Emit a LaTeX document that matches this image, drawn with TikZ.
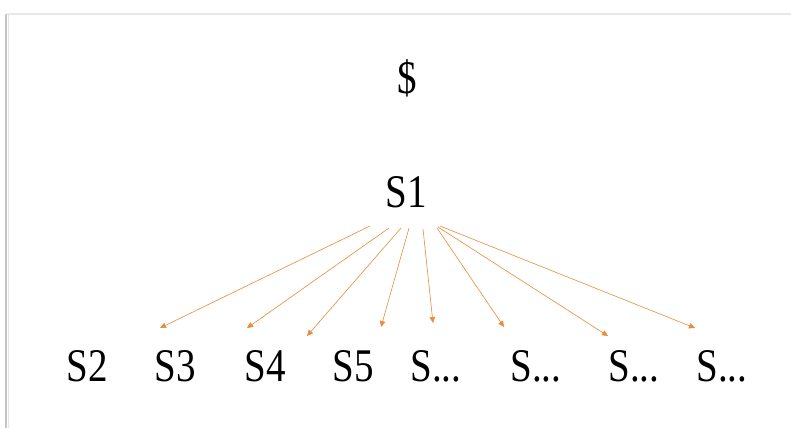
\documentclass[tikz,border=0pt]{standalone}
\usepackage{fontspec}
\setmainfont{Liberation Serif}
\usetikzlibrary{arrows.meta}
\definecolor{arrorange}{RGB}{232,140,60}
\tikzset{
  lbl/.style={anchor=base, inner sep=0pt, font=\fontsize{39}{47}\selectfont, text=black},
  conn/.style={draw=arrorange, line width=0.6pt, -{Triangle[length=6pt,width=5.5pt]}},
  frame/.style={line width=1.2pt}
}
\newcommand{\tall}[1]{\scalebox{1}[1.2]{#1}}
\begin{document}
\begin{tikzpicture}[x=1pt,y=1pt]
\useasboundingbox (0,0) rectangle (791,428);
\fill[white] (0,0) rectangle (791,428);
% slide frame shadow
\draw[frame, gray!18] (7,414) -- (791,414);
\draw[frame, gray!45] (6,414) -- (6,0);
\draw[line width=0.6pt, gray!20] (8,413) -- (8,0);
% labels
\node[lbl] (dollar) at (407,334) {\tall{\$}};
\node[lbl] (s1) at (406,220) {\tall{S1}};
\node[lbl] (s2) at (87,47) {\tall{S2}};
\node[lbl] (s3) at (175,47) {\tall{S3}};
\node[lbl] (s4) at (265,47) {\tall{S4}};
\node[lbl] (s5) at (353,47) {\tall{S5}};
\node[lbl] (s6) at (436,47) {\tall{S...}};
\node[lbl] (s7) at (536,47) {\tall{S...}};
\node[lbl] (s8) at (634,47) {\tall{S...}};
\node[lbl] (s9) at (722,47) {\tall{S...}};
% connector end points
\coordinate (a1) at (370,202); \coordinate (t1) at (160,100);
\coordinate (a2) at (389,200); \coordinate (t2) at (247,100);
\coordinate (a3) at (401,200); \coordinate (t3) at (307,92);
\coordinate (a4) at (409,200); \coordinate (t4) at (381,101);
\coordinate (a5) at (423,199); \coordinate (t5) at (433,105);
\coordinate (a6) at (437,200); \coordinate (t6) at (504,101);
\coordinate (a7) at (438,201); \coordinate (t7) at (608,92);
\coordinate (a8) at (440,202); \coordinate (t8) at (695,100);
\foreach \i in {1,...,8} {\draw[conn] (a\i) -- (t\i);}
\end{tikzpicture}
\end{document}
